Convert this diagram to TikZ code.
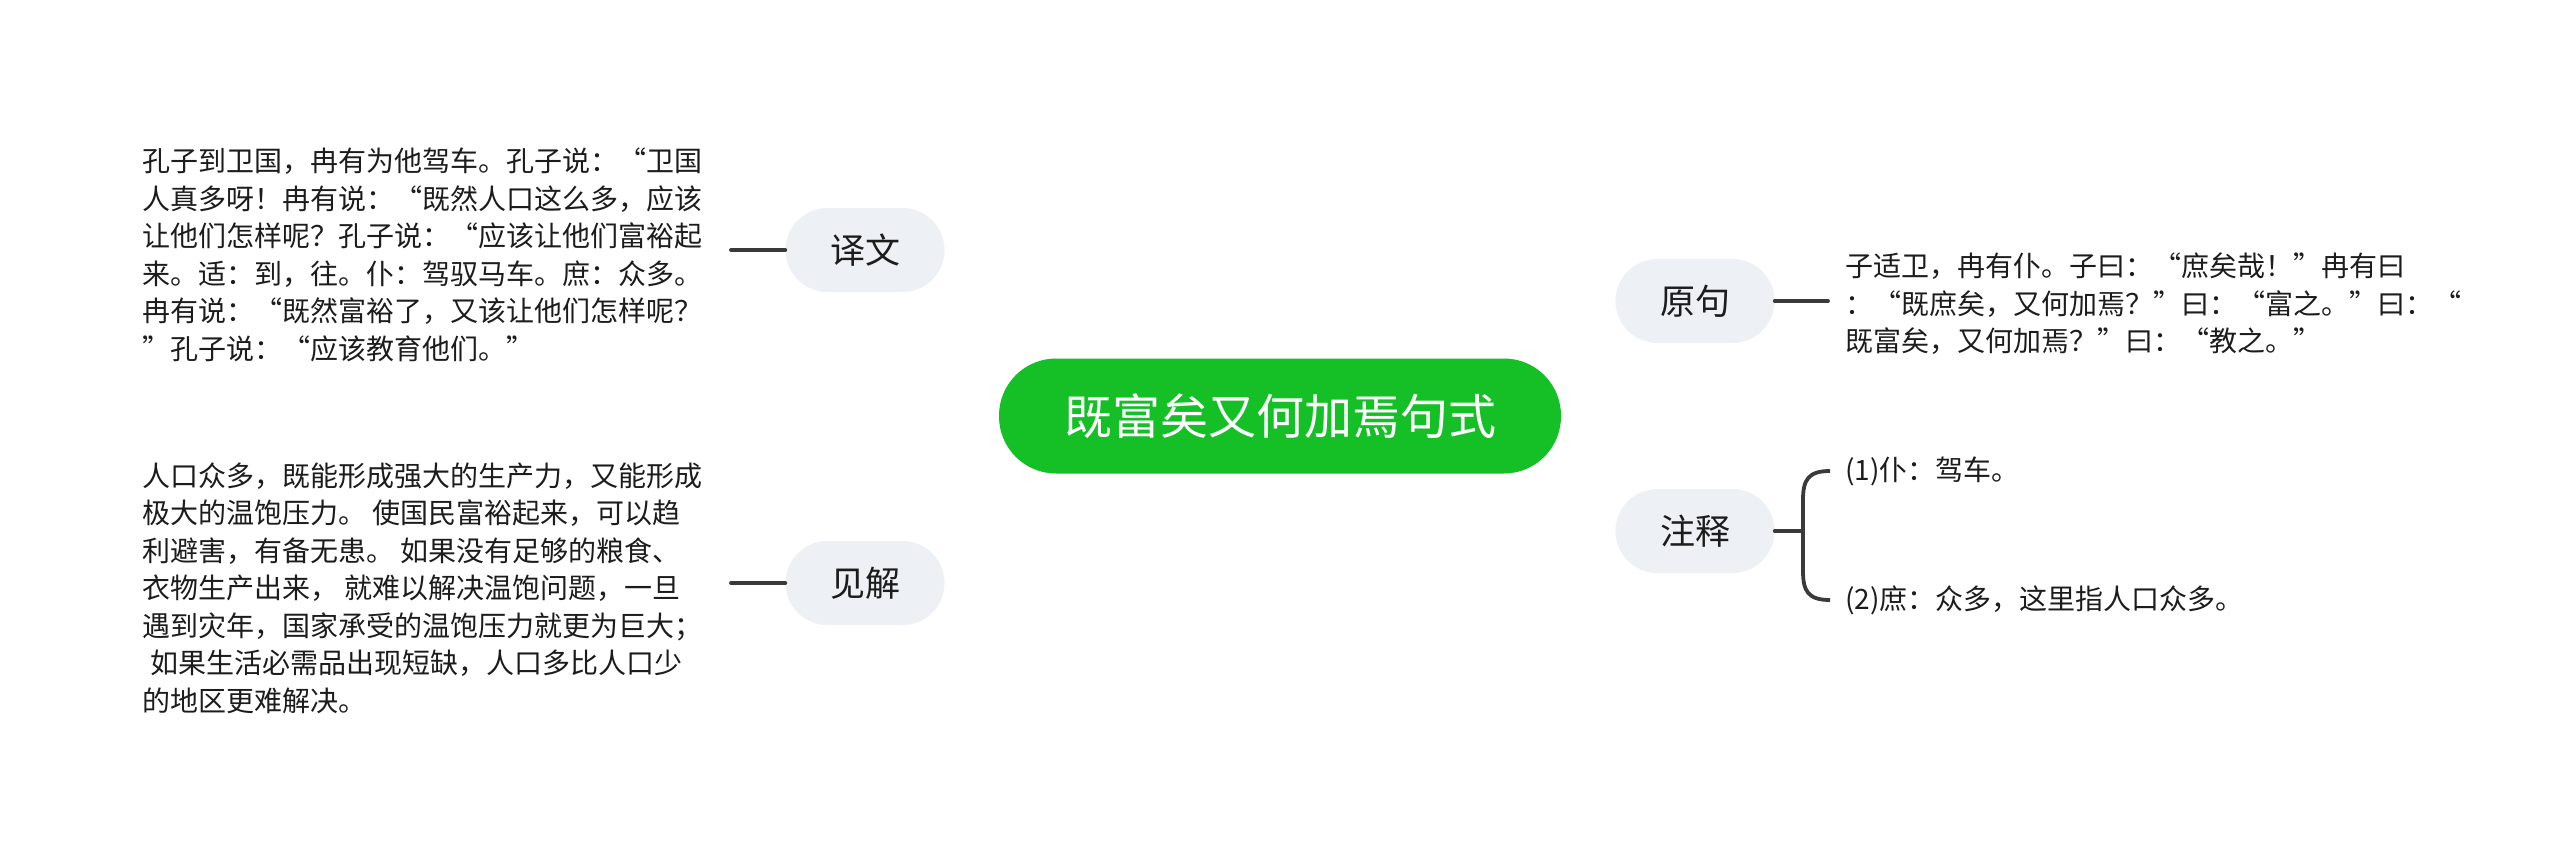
\documentclass[tikz,border=0pt]{standalone}
\usepackage{fontspec}
\newfontfamily\cjk{Noto Sans CJK SC}
\usetikzlibrary{backgrounds}
\definecolor{rootgreen}{RGB}{21,192,38}
\definecolor{topicfill}{RGB}{237,240,244}
\definecolor{linegray}{RGB}{58,58,58}
\definecolor{textdark}{RGB}{28,28,28}
\begin{document}
\begin{tikzpicture}[x=1pt,y=-1pt,
  rootnode/.style={fill=rootgreen, rounded corners=57pt, minimum width=562pt, minimum height=115pt, inner sep=0pt, text=white, font=\cjk\fontsize{48}{56}\selectfont},
  topic/.style={fill=topicfill, rounded corners=42pt, minimum width=159pt, minimum height=84pt, inner sep=0pt, text=textdark, font=\cjk\fontsize{35}{40}\selectfont},
  body/.style={anchor=west, inner sep=0pt, align=left, text=textdark, font=\cjk\fontsize{28}{37.5}\selectfont},
  conn/.style={draw=linegray, line width=3.8pt, line cap=round}
]
\useasboundingbox (0,0) rectangle (2560,851);
\fill[white] (0,0) rectangle (2560,851);

\node[rootnode] (root) at (1280,416) {既富矣又何加焉句式};
\node[topic] (yw) at (865,250) {译文};
\node[topic] (jj) at (865,583) {见解};
\node[topic] (yj) at (1695,301) {原句};
\node[topic] (zs) at (1695,531) {注释};

\node[body] (ywt) at (142,255) {孔子到卫国，冉有为他驾车。孔子说：“卫国\\人真多呀！冉有说：“既然人口这么多，应该\\让他们怎样呢？孔子说：“应该让他们富裕起\\来。适：到，往。仆：驾驭马车。庶：众多。\\冉有说：“既然富裕了，又该让他们怎样呢？\\”孔子说：“应该教育他们。”};

\node[body] (jjt) at (142,588) {人口众多，既能形成强大的生产力，又能形成\\极大的温饱压力。 使国民富裕起来，可以趋\\利避害，有备无患。 如果没有足够的粮食、\\衣物生产出来， 就难以解决温饱问题，一旦\\遇到灾年，国家承受的温饱压力就更为巨大；\\\hspace*{0.3em}如果生活必需品出现短缺，人口多比人口少\\的地区更难解决。};

\node[body] (yjt) at (1845,304) {子适卫，冉有仆。子曰：“庶矣哉！”冉有曰\\：“既庶矣，又何加焉？”曰：“富之。”曰：“\\既富矣，又何加焉？”曰：“教之。”};

\node[body] (i1) at (1845,471) {(1)仆：驾车。};
\node[body] (i2) at (1845,600) {(2)庶：众多，这里指人口众多。};

\coordinate (ywl) at (731,250);
\coordinate (jjl) at (731,583);
\coordinate (yjr) at (1828,301);
\coordinate (zsb) at (1803,531);

\begin{scope}[on background layer]
\draw[conn] (yw.east) .. controls (1180,250) and (1268,330) .. (root.center);
\draw[conn] (jj.east) .. controls (1180,583) and (1268,502) .. (root.center);
\draw[conn] (root.center) .. controls (1295,330) and (1400,301) .. (yj.west);
\draw[conn] (root.center) .. controls (1295,502) and (1400,531) .. (zs.west);
\end{scope}

\draw[conn] (ywl) -- (yw.west);
\draw[conn] (jjl) -- (jj.west);
\draw[conn] (yj.east) -- (yjr);
\draw[conn] (zs.east) -- (zsb);
\draw[conn, line cap=butt] ([xshift=-15pt]i1.west) .. controls (1808,471) and (1803,480) .. (1803,500) -- (1803,571) .. controls (1803,591) and (1808,600) .. ([xshift=-15pt]i2.west);
\end{tikzpicture}
\end{document}
